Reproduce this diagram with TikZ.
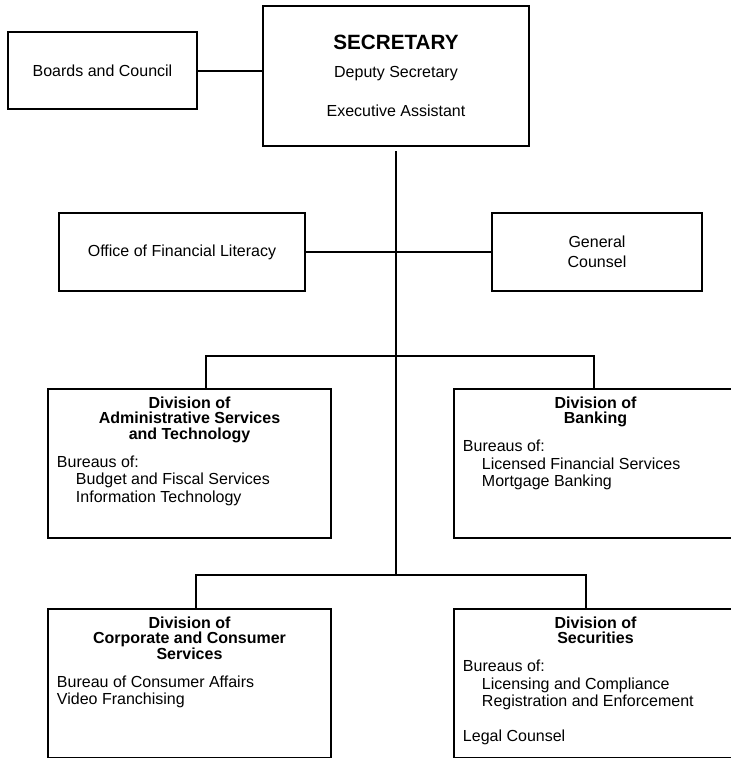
\documentclass[tikz,border=0pt]{standalone}
\usepackage{fontspec}
\setmainfont{Liberation Sans}

\begin{document}
\begin{tikzpicture}[node distance=80pt, line width=1.5pt, font=\fontsize{12}{14}\selectfont,
  block/.style={rectangle, draw, inner sep=0pt, align=center},
  division/.style={rectangle, draw, inner xsep=6.75pt, inner ysep=0pt}]
  {
  \useasboundingbox (-297pt,57pt) rectangle (251.25pt,-511.5pt);
  \clip (-297pt,57pt) rectangle (251.25pt,-511.5pt);

  \node[block, minimum width=199.5pt, minimum height=105pt] (sec) at (0,0)
    {{\fontsize{15.5}{18}\selectfont\bfseries SECRETARY}\\[6.6pt] Deputy Secretary\\[15.5pt] Executive Assistant};
  \node[block, left of=sec, node distance=220.125pt, yshift=4.125pt, minimum width=141.75pt, minimum height=57.75pt] (boards) {Boards and Council};

  \node[coordinate, below of=sec, node distance=132pt] (hub1) {};
  \node[block, left of=hub1, node distance=160.5pt, minimum width=184.5pt, minimum height=58.5pt] (ofl) {Office of Financial Literacy};
  \node[block, right of=hub1, node distance=150.75pt, minimum width=157.5pt, minimum height=58.5pt] (gc) {General\\[1pt] Counsel};

  \node[coordinate, below of=hub1, node distance=78pt] (hub2) {};
  \node[coordinate, left of=hub2, node distance=142.5pt] (lb1) {};
  \node[coordinate, right of=hub2, node distance=148.5pt] (rb1) {};
  \node[coordinate, below of=hub2, node distance=164.25pt] (hub3) {};
  \node[coordinate, left of=hub3, node distance=150pt] (lb2) {};
  \node[coordinate, right of=hub3, node distance=142.5pt] (rb2) {};

  \node[division, below of=lb1, node distance=80.625pt, xshift=-12.375pt] (das)
    {\parbox[c][111.75pt][t]{198.75pt}{{\centering\bfseries\fontsize{12}{11.625}\selectfont\rule{0pt}{14.25pt}Division of\\Administrative Services\\and Technology\par}
     \vspace{8pt}\fontsize{12}{13.1}\selectfont
     Bureaus of:\\
     \hspace*{14.25pt}Budget and Fiscal Services\\
     \hspace*{14.25pt}Information Technology}};
  \node[division, below of=rb1, node distance=80.625pt, xshift=1.125pt] (dob)
    {\parbox[c][111.75pt][t]{198.75pt}{{\centering\bfseries\fontsize{12}{11.625}\selectfont\rule{0pt}{14.25pt}Division of\\Banking\par}
     \vspace{8pt}\fontsize{12}{13.1}\selectfont
     Bureaus of:\\
     \hspace*{14.25pt}Licensed Financial Services\\
     \hspace*{14.25pt}Mortgage Banking}};
  \node[division, below of=lb2, node distance=81.375pt, xshift=-4.875pt] (dccs)
    {\parbox[c][111.75pt][t]{198.75pt}{{\centering\bfseries\fontsize{12}{11.625}\selectfont\rule{0pt}{14.25pt}Division of\\Corporate and Consumer\\Services\par}
     \vspace{8pt}\fontsize{12}{13.1}\selectfont
     Bureau of Consumer Affairs\\
     Video Franchising}};
  \node[division, below of=rb2, node distance=81.375pt, xshift=7.125pt] (dos)
    {\parbox[c][111.75pt][t]{198.75pt}{{\centering\bfseries\fontsize{12}{11.625}\selectfont\rule{0pt}{14.25pt}Division of\\Securities\par}
     \vspace{8pt}\fontsize{12}{13.1}\selectfont
     Bureaus of:\\
     \hspace*{14.25pt}Licensing and Compliance\\
     \hspace*{14.25pt}Registration and Enforcement\\[13.1pt]
     Legal Counsel}};

  \draw (boards) -- (boards -| sec.west);
  \draw[shorten <=3pt] (sec) -- (hub3);
  \draw (ofl) -- (gc);
  \draw (das.north -| lb1) -- (lb1) -- (rb1) -- (dob.north -| rb1);
  \draw (dccs.north -| lb2) -- (lb2) -- (rb2) -- (dos.north -| rb2);
  }
\end{tikzpicture}
\end{document}
